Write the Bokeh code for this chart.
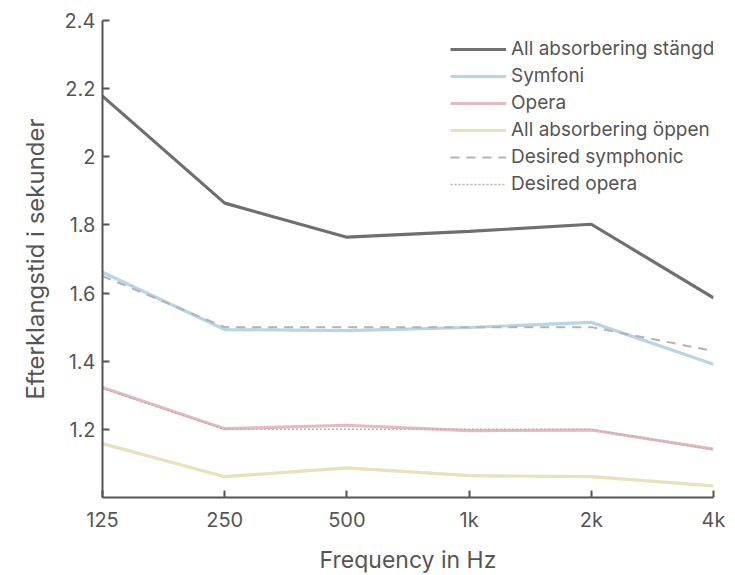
from bokeh.plotting import figure
from bokeh.models import FixedTicker, Range1d, Legend, LegendItem
from bokeh.embed import file_html
from bokeh.resources import INLINE

freqs = [125, 250, 500, 1000, 2000, 4000]
freq_labels = ["125", "250", "500", "1k", "2k", "4k"]
stangd = [2.178, 1.864, 1.764, 1.781, 1.802, 1.586]
symfoni = [1.661, 1.493, 1.490, 1.499, 1.514, 1.391]
opera = [1.323, 1.202, 1.212, 1.196, 1.198, 1.142]
oppen = [1.158, 1.061, 1.087, 1.064, 1.061, 1.034]
desired_symphonic = [1.65, 1.50, 1.50, 1.50, 1.50, 1.43]
desired_opera = [1.32, 1.20, 1.20, 1.20, 1.20, 1.14]
y_ticks = [1.2, 1.4, 1.6, 1.8, 2.0, 2.2, 2.4]

FONT = "Inter"
TXT = "#555555"

p = figure(frame_width=611, frame_height=477, x_axis_type="log",
           output_backend="svg", toolbar_location=None,
           min_border_left=102, min_border_right=14, min_border_top=20, min_border_bottom=70)
p.x_range = Range1d(125, 4000)
p.y_range = Range1d(1.0, 2.4)
p.outline_line_color = None
p.xgrid.visible = False
p.ygrid.visible = False

r_stangd = p.line(freqs, stangd, line_color="#6f6f71", line_width=3.2)
r_sym = p.line(freqs, symfoni, line_color="#b7d4e8", line_width=3.2)
r_op = p.line(freqs, opera, line_color="#e8b9c3", line_width=3.2)
r_opp = p.line(freqs, oppen, line_color="#e8e1ba", line_width=3.2)
r_ds = p.line(freqs, desired_symphonic, line_color="#b3b3b3", line_width=2, line_dash="9 7")
r_do = p.line(freqs, desired_opera, line_color="#b3b3b3", line_width=1.5, line_dash="2 2")

for ax in (p.xaxis[0], p.yaxis[0]):
    ax.axis_line_color = TXT
    ax.axis_line_width = 2
    ax.major_tick_line_color = TXT
    ax.major_tick_line_width = 2
    ax.major_tick_in = 7
    ax.major_tick_out = 0
    ax.minor_tick_line_color = None
    ax.major_label_text_font = FONT
    ax.major_label_text_font_size = "20px"
    ax.major_label_text_color = TXT
    ax.axis_label_text_font = FONT
    ax.axis_label_text_font_style = "normal"
    ax.axis_label_text_color = TXT

p.xaxis.ticker = FixedTicker(ticks=freqs)
p.xaxis.major_label_overrides = {f: l for f, l in zip(freqs, freq_labels)}
p.xaxis.axis_label = "Frequency in Hz"
p.xaxis.axis_label_text_font_size = "23px"
p.xaxis.major_label_standoff = 10
p.xaxis.axis_label_standoff = 11

p.yaxis.ticker = FixedTicker(ticks=y_ticks)
p.yaxis.major_label_overrides = {t: ("%g" % t) for t in y_ticks}
p.yaxis.axis_label = "Efterklangstid i sekunder"
p.yaxis.axis_label_text_font_size = "24px"
p.yaxis.major_label_standoff = 7
p.yaxis.axis_label_standoff = 12

legend = Legend(items=[
    LegendItem(label="All absorbering stängd", renderers=[r_stangd]),
    LegendItem(label="Symfoni", renderers=[r_sym]),
    LegendItem(label="Opera", renderers=[r_op]),
    LegendItem(label="All absorbering öppen", renderers=[r_opp]),
    LegendItem(label="Desired symphonic", renderers=[r_ds]),
    LegendItem(label="Desired opera", renderers=[r_do]),
], location=(348, 302))
legend.border_line_color = None
legend.background_fill_alpha = 0
legend.label_text_font = FONT
legend.label_text_font_size = "19px"
legend.label_text_color = TXT
legend.glyph_width = 56
legend.glyph_height = 20
legend.label_height = 20
legend.spacing = 4
legend.label_standoff = 5
legend.padding = 0
legend.margin = 0
p.add_layout(legend)

open("out.html", "w").write(file_html(p, INLINE))
